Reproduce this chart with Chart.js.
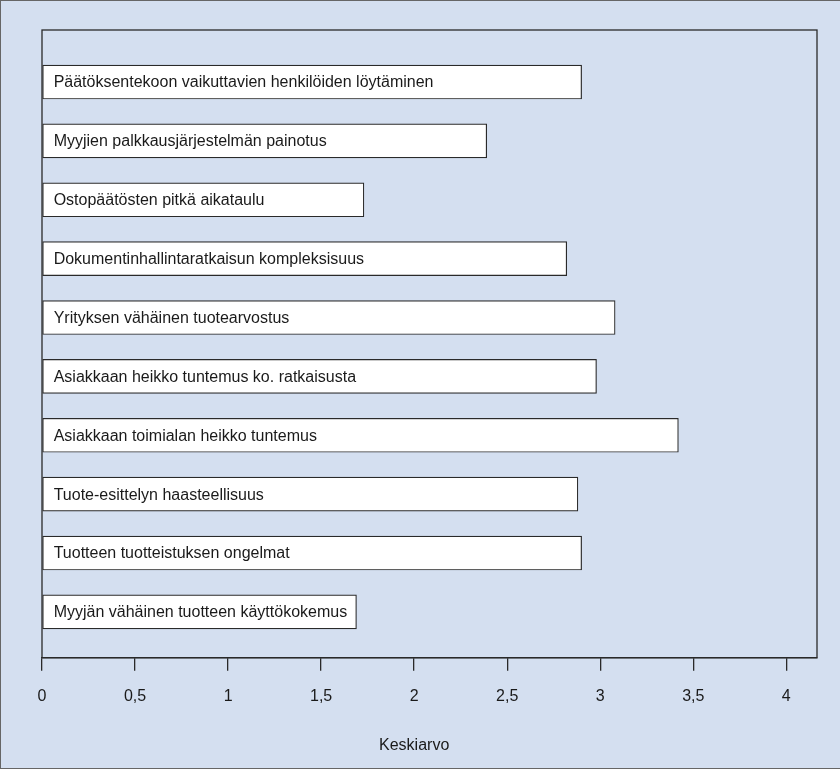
<!DOCTYPE html>
<html>
<head>
<meta charset="utf-8">
<script src="https://cdn.jsdelivr.net/npm/chart.js@4/dist/chart.umd.min.js"></script>
<style>
  html, body { margin: 0; padding: 0; background: #fff; }
  #wrap { position: relative; width: 840px; height: 769px; background: #d4dff0; box-sizing: border-box; border-left: 1px solid #666; border-top: 1px solid #666; border-bottom: 1px solid #666; }
</style>
</head>
<body>
<div id="wrap"><canvas id="chart" width="839" height="767"></canvas></div>
<script>
  // Kategoriat ylhäältä alas
  var categories = [
    'Päätöksentekoon vaikuttavien henkilöiden löytäminen',
    'Myyjien palkkausjärjestelmän painotus',
    'Ostopäätösten pitkä aikataulu',
    'Dokumentinhallintaratkaisun kompleksisuus',
    'Yrityksen vähäinen tuotearvostus',
    'Asiakkaan heikko tuntemus ko. ratkaisusta',
    'Asiakkaan toimialan heikko tuntemus',
    'Tuote-esittelyn haasteellisuus',
    'Tuotteen tuotteistuksen ongelmat',
    'Myyjän vähäinen tuotteen käyttökokemus'
  ];
  // Keskiarvot
  var averages = [2.90, 2.39, 1.73, 2.82, 3.08, 2.98, 3.42, 2.88, 2.90, 1.69];
  var xTicks = [0, 0.5, 1, 1.5, 2, 2.5, 3, 3.5, 4];
  var axisTitle = 'Keskiarvo';

  var FONT = '"Liberation Sans Narrow", "Liberation Sans", sans-serif';
  var INK = '#1a1a1a';

  var points = averages.map(function(v, i){ return { x: v, y: i }; });

  // Kehys, palkkien tekstit ja akselin otsikko
  var decorPlugin = {
    id: 'decor',
    afterDatasetsDraw: function(chart){
      var ctx = chart.ctx;
      var a = chart.chartArea;
      ctx.save();
      ctx.strokeStyle = '#2a2a2a';
      ctx.lineWidth = 1.3;
      ctx.strokeRect(a.left, a.top, a.right - a.left, a.bottom - a.top);

      ctx.fillStyle = INK;
      ctx.font = '16px ' + FONT;
      ctx.textBaseline = 'middle';
      ctx.textAlign = 'left';
      chart.getDatasetMeta(0).data.forEach(function(bar, i){
        ctx.fillText(categories[i], bar.base + 11, bar.y + 1);
      });

      var xs = chart.scales.x;
      ctx.textAlign = 'center';
      ctx.font = '16px ' + FONT;
      ctx.fillText(axisTitle, xs.getPixelForValue(2), 745);
      ctx.restore();
    }
  };

  new Chart(document.getElementById('chart'), {
    type: 'bar',
    data: {
      datasets: [{
        data: points,
        backgroundColor: '#ffffff',
        borderColor: '#2a2a2a',
        borderWidth: 1.2,
        borderSkipped: false,
        barThickness: 34
      }]
    },
    options: {
      indexAxis: 'y',
      responsive: false,
      animation: false,
      layout: { padding: { left: 41, top: 29, right: 23, bottom: 46 } },
      plugins: { legend: { display: false }, tooltip: { enabled: false } },
      scales: {
        y: {
          type: 'linear',
          display: false,
          reverse: true,
          offset: false,
          bounds: 'data',
          min: -0.884,
          max: 9.78
        },
        x: {
          type: 'linear',
          bounds: 'data',
          min: 0,
          max: 4.165,
          afterBuildTicks: function(scale){
            scale.ticks = xTicks.map(function(v){ return { value: v }; });
          },
          grid: { drawOnChartArea: false, drawTicks: true, tickLength: 13, color: '#2a2a2a', lineWidth: 1.3 },
          border: { display: true, color: '#2a2a2a', width: 1.3 },
          ticks: {
            padding: 16,
            color: INK,
            font: { family: FONT, size: 16 },
            maxRotation: 0,
            autoSkip: false,
            callback: function(v){ return String(v).replace('.', ','); }
          }
        }
      }
    },
    plugins: [decorPlugin]
  });
</script>
</body>
</html>
